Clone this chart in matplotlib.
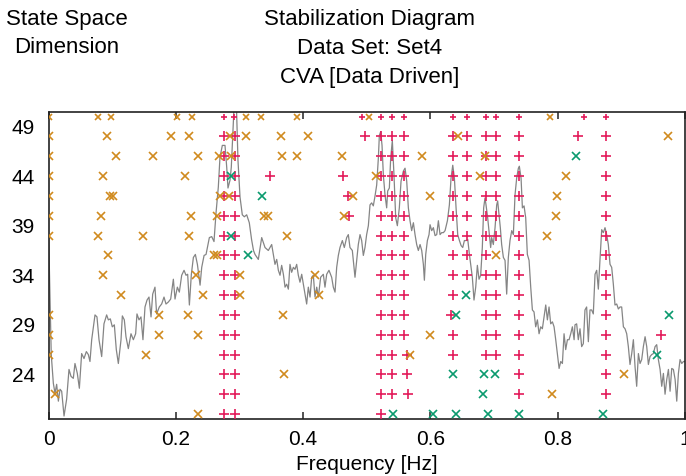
import matplotlib
matplotlib.use("Agg")
import matplotlib.pyplot as plt

plt.rcParams['font.family'] = ['Liberation Sans', 'DejaVu Sans']

# model orders (state space dimension) of each row of poles
dims = [50, 48, 46, 44, 42, 40, 38, 36, 34, 32, 30, 28, 26, 24, 22, 20]

# stable poles (red +), one list of frequencies [Hz] per row
stable_rows = [
    [0.276, 0.292, 0.492, 0.522, 0.540, 0.559, 0.635, 0.657, 0.687, 0.704, 0.739, 0.841, 0.876],
    [0.276, 0.293, 0.497, 0.522, 0.540, 0.559, 0.635, 0.657, 0.687, 0.704, 0.739, 0.833, 0.876],
    [0.276, 0.293, 0.522, 0.540, 0.559, 0.635, 0.657, 0.687, 0.704, 0.739, 0.876],
    [0.276, 0.293, 0.348, 0.463, 0.522, 0.540, 0.559, 0.635, 0.657, 0.687, 0.704, 0.739, 0.876],
    [0.276, 0.293, 0.471, 0.522, 0.540, 0.559, 0.635, 0.657, 0.687, 0.704, 0.739, 0.876],
    [0.276, 0.293, 0.472, 0.522, 0.540, 0.559, 0.635, 0.657, 0.687, 0.704, 0.739, 0.876],
    [0.276, 0.293, 0.522, 0.540, 0.559, 0.635, 0.657, 0.687, 0.704, 0.739, 0.876],
    [0.276, 0.293, 0.522, 0.540, 0.559, 0.635, 0.657, 0.687, 0.739, 0.876],
    [0.276, 0.293, 0.522, 0.540, 0.559, 0.635, 0.657, 0.687, 0.704, 0.739, 0.876],
    [0.276, 0.293, 0.522, 0.540, 0.559, 0.635, 0.687, 0.704, 0.739, 0.876],
    [0.276, 0.293, 0.522, 0.540, 0.559, 0.633, 0.687, 0.704, 0.739, 0.876],
    [0.276, 0.293, 0.522, 0.540, 0.559, 0.635, 0.687, 0.704, 0.739, 0.876, 0.962],
    [0.276, 0.293, 0.522, 0.540, 0.563, 0.635, 0.687, 0.704, 0.739, 0.876],
    [0.276, 0.293, 0.522, 0.540, 0.563, 0.739, 0.876],
    [0.276, 0.293, 0.522, 0.540, 0.565, 0.739, 0.876],
    [0.276, 0.293, 0.522],
]

# unstable poles (orange x)
unstable_rows = [
    [0.0, 0.078, 0.098, 0.201, 0.225, 0.310, 0.334, 0.391, 0.503, 0.788],
    [0.0, 0.091, 0.192, 0.220, 0.285, 0.311, 0.365, 0.408, 0.643, 0.973],
    [0.0, 0.106, 0.164, 0.235, 0.268, 0.287, 0.367, 0.391, 0.461, 0.587, 0.686],
    [0.0, 0.086, 0.214, 0.514, 0.678, 0.814],
    [0.0, 0.097, 0.101, 0.269, 0.284, 0.478, 0.600, 0.799],
    [0.0, 0.083, 0.223, 0.264, 0.339, 0.345, 0.465, 0.797],
    [0.0, 0.078, 0.149, 0.221, 0.375, 0.784],
    [0.093, 0.260, 0.265, 0.703],
    [0.085, 0.231, 0.301, 0.419],
    [0.113, 0.242, 0.301, 0.425],
    [0.0, 0.174, 0.219, 0.368],
    [0.0, 0.174, 0.234, 0.600],
    [0.0, 0.153, 0.568],
    [0.370, 0.904],
    [0.010, 0.792],
    [0.234],
]

# poles stable in frequency only (green x)
freqstab_rows = [
    [],
    [],
    [0.829],
    [0.287],
    [0.336],
    [],
    [0.286],
    [0.314],
    [],
    [0.656],
    [0.641, 0.976],
    [],
    [0.957],
    [0.635, 0.685, 0.701],
    [0.683],
    [0.542, 0.604, 0.640, 0.690, 0.739, 0.872],
]

# spectrum (grey line), level in axis units
spec_freq = [
    0.000, 0.002, 0.004, 0.0073, 0.0099, 0.0125, 0.0152, 0.0178, 0.0204, 0.0241,
    0.0282, 0.0319, 0.0351, 0.0387, 0.0413, 0.0450, 0.0482, 0.0518, 0.0555, 0.0592,
    0.0623, 0.0649, 0.0676, 0.0728, 0.0759, 0.0791, 0.0833, 0.0869, 0.0911, 0.0938,
    0.0969, 0.1000, 0.1032, 0.1063, 0.1095, 0.1137, 0.1158, 0.1189, 0.1215, 0.1252,
    0.1294, 0.1331, 0.1367, 0.1388, 0.1420, 0.1451, 0.1482, 0.1514, 0.1546, 0.1577,
    0.1609, 0.1635, 0.1671, 0.1697, 0.1739, 0.1776, 0.1813, 0.1844, 0.1881, 0.1918,
    0.1960, 0.1986, 0.2023, 0.2054, 0.2091, 0.2128, 0.2159, 0.2185, 0.2212, 0.2243,
    0.2275, 0.2306, 0.2338, 0.2380, 0.2406, 0.2443, 0.2474, 0.2526, 0.2563, 0.2599,
    0.2631, 0.2667, 0.2693, 0.2730, 0.2772, 0.2799, 0.2819, 0.2851, 0.2871, 0.2893,
    0.2918, 0.2950, 0.2976, 0.3008, 0.3044, 0.3076, 0.3113, 0.3154, 0.3190, 0.3220,
    0.3244, 0.3296, 0.3349, 0.3401, 0.3453, 0.3506, 0.3558, 0.3585, 0.3611, 0.3637,
    0.3663, 0.3690, 0.3716, 0.3742, 0.3768, 0.3794, 0.3820, 0.3847, 0.3873, 0.3899,
    0.3925, 0.3951, 0.3978, 0.4004, 0.4030, 0.4056, 0.4082, 0.4109, 0.4135, 0.4161,
    0.4187, 0.4214, 0.4240, 0.4276, 0.4318, 0.4344, 0.4371, 0.4407, 0.4449, 0.4475,
    0.4502, 0.4528, 0.4554, 0.4580, 0.4617, 0.4648, 0.4685, 0.4711, 0.4737, 0.4774,
    0.4816, 0.4842, 0.4868, 0.4895, 0.4921, 0.4947, 0.4973, 0.4999, 0.5026, 0.5052,
    0.5078, 0.5104, 0.5131, 0.5157, 0.5183, 0.5199, 0.5220, 0.5241, 0.5262, 0.5288,
    0.5314, 0.5330, 0.5356, 0.5377, 0.5403, 0.5429, 0.5456, 0.5482, 0.5513, 0.5540,
    0.5576, 0.5603, 0.5629, 0.5655, 0.5681, 0.5707, 0.5734, 0.5760, 0.5786, 0.5812,
    0.5839, 0.5865, 0.5891, 0.5907, 0.5928, 0.5954, 0.5980, 0.5996, 0.6022, 0.6048,
    0.6075, 0.6101, 0.6127, 0.6153, 0.6179, 0.6206, 0.6232, 0.6269, 0.6300, 0.6326,
    0.6353, 0.6379, 0.6405, 0.6431, 0.6458, 0.6484, 0.6510, 0.6536, 0.6563, 0.6589,
    0.6615, 0.6635, 0.6661, 0.6687, 0.6714, 0.6740, 0.6766, 0.6792, 0.6818, 0.6839,
    0.6860, 0.6876, 0.6902, 0.6923, 0.6949, 0.6965, 0.6991, 0.7018, 0.7044, 0.7059,
    0.7080, 0.7101, 0.7122, 0.7149, 0.7175, 0.7201, 0.7227, 0.7253, 0.7280, 0.7306,
    0.7332, 0.7358, 0.7385, 0.7400, 0.7427, 0.7448, 0.7474, 0.7500, 0.7526, 0.7553,
    0.7579, 0.7605, 0.7631, 0.7657, 0.7684, 0.7710, 0.7736, 0.7762, 0.7789, 0.7815,
    0.7841, 0.7867, 0.7893, 0.7920, 0.7946, 0.7972, 0.7998, 0.8025, 0.8051, 0.8077,
    0.8103, 0.8129, 0.8156, 0.8182, 0.8208, 0.8234, 0.8261, 0.8275, 0.8301, 0.8327,
    0.8354, 0.8380, 0.8406, 0.8432, 0.8458, 0.8485, 0.8511, 0.8537, 0.8563, 0.8590,
    0.8616, 0.8642, 0.8668, 0.8695, 0.8721, 0.8747, 0.8773, 0.8799, 0.8826, 0.8852,
    0.8878, 0.8904, 0.8931, 0.8957, 0.8983, 0.9009, 0.9036, 0.9062, 0.9088, 0.9114,
    0.9140, 0.9167, 0.9193, 0.9219, 0.9245, 0.9272, 0.9298, 0.9324, 0.9350, 0.9377,
    0.9403, 0.9429, 0.9455, 0.9481, 0.9508, 0.9534, 0.9560, 0.9586, 0.9613, 0.9639,
    0.9665, 0.9691, 0.9718, 0.9744, 0.9770, 0.9796, 0.9822, 0.9849, 0.9875, 0.9901,
    0.9927, 0.9954, 0.9980, 1.0000,
]
spec_level = [
    37.8, 32.0, 26.0, 23.1, 22.1, 23.0, 21.3, 22.5, 22.3, 19.8,
    21.5, 24.5, 23.8, 23.6, 25.1, 24.1, 22.6, 26.1, 25.6, 26.3,
    26.0, 25.3, 27.5, 30.0, 29.8, 27.5, 25.8, 29.1, 30.0, 29.5,
    29.6, 28.8, 29.0, 26.5, 25.1, 27.5, 29.9, 29.5, 27.8, 26.6,
    28.1, 27.5, 28.1, 30.1, 29.5, 29.8, 27.5, 30.8, 31.5, 31.8,
    29.8, 32.1, 32.8, 30.1, 30.8, 31.1, 31.8, 31.1, 31.3, 31.6,
    33.6, 31.6, 32.8, 32.3, 34.0, 34.5, 34.0, 34.1, 31.0, 34.1,
    35.8, 36.1, 35.1, 33.0, 34.8, 36.0, 36.1, 37.8, 37.9, 37.4,
    40.3, 42.9, 45.9, 47.1, 47.1, 44.9, 42.8, 43.6, 44.9, 48.1,
    51.5, 51.5, 45.6, 41.9, 40.1, 39.9, 40.1, 39.3, 37.6, 36.5,
    36.1, 35.6, 37.8, 36.8, 36.5, 37.1, 35.1, 35.6, 34.5, 34.0,
    35.0, 34.1, 32.8, 33.1, 32.6, 35.1, 34.3, 34.8, 34.6, 35.1,
    34.0, 33.3, 34.1, 33.1, 32.1, 31.1, 32.8, 31.8, 33.8, 34.0,
    31.8, 32.8, 31.8, 33.8, 34.1, 32.8, 34.1, 34.5, 33.8, 32.8,
    32.3, 34.8, 36.0, 36.8, 37.5, 36.8, 37.8, 38.1, 36.8, 36.5,
    33.8, 35.5, 37.1, 38.1, 37.5, 36.0, 36.8, 38.1, 39.0, 41.1,
    41.3, 41.0, 42.0, 43.1, 45.8, 48.1, 48.5, 47.1, 44.1, 42.1,
    40.8, 42.5, 42.8, 45.8, 47.6, 44.1, 39.8, 39.0, 40.8, 43.5,
    44.5, 44.8, 43.5, 40.8, 39.5, 38.5, 39.3, 38.1, 37.1, 36.5,
    37.1, 36.5, 35.1, 33.5, 36.1, 37.5, 38.1, 39.1, 38.5, 38.8,
    38.0, 38.1, 39.5, 38.1, 38.3, 38.3, 38.5, 39.5, 41.1, 43.8,
    45.1, 43.8, 40.8, 38.1, 37.5, 37.0, 36.8, 37.5, 37.5, 37.6,
    36.1, 35.1, 33.8, 31.5, 32.8, 35.0, 33.6, 34.0, 36.8, 40.8,
    41.8, 41.1, 39.8, 38.5, 36.8, 37.8, 37.1, 38.8, 41.1, 41.5,
    40.1, 38.8, 37.1, 35.8, 35.5, 32.1, 35.8, 37.5, 38.5, 38.1,
    42.1, 43.8, 44.8, 45.0, 43.8, 40.8, 41.0, 39.8, 36.1, 35.5,
    32.8, 30.5, 30.3, 28.8, 29.5, 28.1, 28.8, 28.6, 29.8, 31.0,
    29.5, 30.8, 29.1, 29.3, 28.8, 27.5, 26.1, 24.6, 25.3, 25.1,
    28.1, 26.5, 27.5, 27.5, 28.1, 28.8, 27.5, 29.0, 29.1, 27.5,
    28.6, 26.8, 27.1, 30.5, 30.8, 27.3, 30.5, 30.5, 30.1, 34.1,
    34.5, 32.6, 35.5, 38.6, 38.3, 38.8, 38.1, 37.1, 35.1, 34.8,
    33.1, 31.0, 31.1, 30.6, 30.8, 30.8, 28.8, 28.6, 28.1, 26.8,
    25.0, 26.1, 27.5, 24.8, 22.8, 26.1, 25.1, 25.5, 26.8, 27.8,
    26.8, 25.0, 25.8, 26.0, 26.1, 26.8, 27.0, 25.5, 24.5, 22.8,
    24.1, 22.0, 23.5, 24.5, 22.3, 24.6, 24.5, 23.5, 21.3, 24.1,
    25.5, 25.1, 25.3, 25.3,
]

c_stable = '#E31A5A'
c_unstable = '#D08A1E'
c_freq = '#0A9A6E'

fig = plt.figure(figsize=(6.86, 4.76), dpi=100)
ax = fig.add_axes([48.7 / 686, 57 / 476, 636 / 686, 307.3 / 476])

ax.plot(spec_freq, spec_level, color='#858585', lw=0.9, zorder=1)

for i, d in enumerate(dims):
    ms = 4 if d == 50 else 6
    ax.plot(stable_rows[i], [d] * len(stable_rows[i]), '+', color=c_stable,
            ms=ms + 1, mew=1.2, ls='none', zorder=3)
    ax.plot(unstable_rows[i], [d] * len(unstable_rows[i]), 'x', color=c_unstable,
            ms=ms, mew=1.2, ls='none', zorder=3)
    ax.plot(freqstab_rows[i], [d] * len(freqstab_rows[i]), 'x', color=c_freq,
            ms=ms, mew=1.2, ls='none', zorder=3)

ax.set_xlim(0, 1)
ax.set_ylim(19.5, 50.5)
ax.set_xticks([0, 0.2, 0.4, 0.6, 0.8, 1])
ax.set_xticklabels(['0', '0.2', '0.4', '0.6', '0.8', '1'])
ax.set_yticks([24, 29, 34, 39, 44, 49])
ax.tick_params(axis='x', direction='in', top=True, length=5, width=1.2,
               color='#333333', labelsize=15, pad=8)
ax.tick_params(axis='y', length=0, labelsize=15, pad=10)
for s in ax.spines.values():
    s.set_linewidth(1.2)
    s.set_color('#222222')

ax.set_xlabel('Frequency [Hz]', fontsize=15, labelpad=4)

fig.text(67 / 686, 1 - 9 / 476, 'State Space\nDimension', ha='center', va='top',
         fontsize=16, linespacing=1.45)
fig.text(370 / 686, 1 - 9 / 476, 'Stabilization Diagram\nData Set: Set4\nCVA [Data Driven]',
         ha='center', va='top', fontsize=16, linespacing=1.5)

fig.savefig('out.png', dpi=100)
